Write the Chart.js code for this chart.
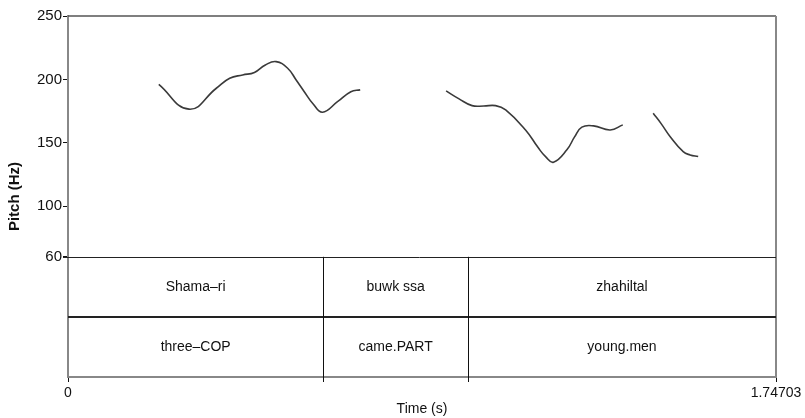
<!DOCTYPE html>
<html>
<head>
<meta charset="utf-8">
<script src="https://cdn.jsdelivr.net/npm/chart.js@4/dist/chart.umd.min.js"></script>
<style>
  html, body { margin: 0; padding: 0; background: #fff; }
  #wrap { width: 805px; height: 418px; }
</style>
</head>
<body>
<div id="wrap"><canvas id="c" width="805" height="418"></canvas></div>
<script>
// Pitch contour (time in s, F0 in Hz), one array per voiced stretch
const seg1Time = [0.224, 0.2985, 0.366, 0.399, 0.431, 0.460, 0.487, 0.5135, 0.542, 0.563, 0.583, 0.605, 0.628, 0.665, 0.698, 0.721];
const seg1Hz   = [196.1, 176.5, 193.0, 200.9, 203.5, 205.5, 211.4, 214.0, 208.8, 199.5, 190.3, 180.6, 174.1, 182.4, 190.3, 191.7];
const seg2Time = [0.933, 0.965, 0.997, 1.026, 1.055, 1.080, 1.129, 1.160, 1.179, 1.198, 1.231, 1.250, 1.268, 1.297, 1.338, 1.369];
const seg2Hz   = [190.9, 184.6, 179.3, 179.0, 179.3, 175.9, 160.1, 146.2, 138.8, 134.6, 144.4, 154.6, 162.3, 163.3, 160.1, 164.1];
const seg3Time = [1.444, 1.464, 1.486, 1.518, 1.535, 1.555];
const seg3Hz   = [173.3, 164.9, 154.8, 143.0, 140.4, 139.1];

// Axis ticks
const pitchTicks = [60, 100, 150, 200, 250];
const timeTicks = [0, 1.74703];

// Annotation tiers: interval boundaries (s) and labels
const tierBounds = [0, 0.630, 0.987, 1.74703];
const tierWords  = ['Shama\u2013ri', 'buwk ssa', 'zhahiltal'];
const tierGloss  = ['three\u2013COP', 'came.PART', 'young.men'];

const FONT = "'Liberation Sans', Arial, Helvetica, sans-serif";
const PITCH_MIN = 60;
const Y_MIN = -34.8;   // space under the pitch floor holds the two text tiers

function toPoints(ts, hs) { return ts.map((t, i) => ({ x: t, y: hs[i] })); }

const lineStyle = {
  borderColor: '#3a3a3a',
  borderWidth: 1.6,
  pointRadius: 0,
  fill: false,
  tension: 0.45
};

const tiersPlugin = {
  id: 'tiers',
  afterDraw(chart) {
    const { ctx, chartArea: a, scales: { x, y } } = chart;
    const top = y.getPixelForValue(PITCH_MIN);
    const bottom = a.bottom;
    const mid = (top + bottom) / 2;
    ctx.save();
    // frame top and right
    ctx.strokeStyle = '#555';
    ctx.lineWidth = 1.5;
    ctx.beginPath();
    ctx.moveTo(a.left, a.top);
    ctx.lineTo(a.right, a.top);
    ctx.stroke();
    ctx.strokeStyle = '#888';
    ctx.lineWidth = 2;
    ctx.beginPath();
    ctx.moveTo(a.right, a.top);
    ctx.lineTo(a.right, a.bottom);
    ctx.stroke();
    // pitch floor / first tier top
    ctx.strokeStyle = '#222';
    ctx.lineWidth = 1;
    ctx.beginPath();
    ctx.moveTo(a.left - 5, Math.round(top) + 0.5);
    ctx.lineTo(a.right, Math.round(top) + 0.5);
    ctx.stroke();
    // separator between tiers
    ctx.lineWidth = 2;
    ctx.beginPath();
    ctx.moveTo(a.left, Math.round(mid));
    ctx.lineTo(a.right, Math.round(mid));
    ctx.stroke();
    // interval boundaries
    ctx.lineWidth = 1;
    ctx.strokeStyle = '#111';
    for (let i = 1; i < tierBounds.length - 1; i++) {
      const px = Math.round(x.getPixelForValue(tierBounds[i])) + 0.5;
      ctx.beginPath();
      ctx.moveTo(px, top);
      ctx.lineTo(px, bottom + 5);
      ctx.stroke();
    }
    // labels
    ctx.fillStyle = '#111';
    ctx.font = '14px ' + FONT;
    ctx.textAlign = 'center';
    ctx.textBaseline = 'middle';
    for (let i = 0; i < tierWords.length; i++) {
      const cx = (x.getPixelForValue(tierBounds[i]) + x.getPixelForValue(tierBounds[i + 1])) / 2;
      ctx.fillText(tierWords[i], cx, (top + mid) / 2);
      ctx.fillText(tierGloss[i], cx, (mid + bottom) / 2);
    }
    ctx.restore();
  }
};

new Chart(document.getElementById('c'), {
  type: 'line',
  data: {
    datasets: [
      Object.assign({ data: toPoints(seg1Time, seg1Hz) }, lineStyle),
      Object.assign({ data: toPoints(seg2Time, seg2Hz) }, lineStyle),
      Object.assign({ data: toPoints(seg3Time, seg3Hz) }, lineStyle)
    ]
  },
  options: {
    responsive: false,
    animation: false,
    events: [],
    layout: { padding: { top: 16, right: 29, left: 0, bottom: 0 } },
    plugins: { legend: { display: false }, tooltip: { enabled: false } },
    scales: {
      x: {
        type: 'linear',
        min: 0,
        max: 1.74703,
        afterBuildTicks: s => { s.ticks = timeTicks.map(v => ({ value: v })); },
        afterFit: s => { s.height = 41; },
        ticks: {
          autoSkip: false,
          maxRotation: 0,
          padding: 3,
          color: '#111',
          font: { family: FONT, size: 14 },
          callback: v => String(v)
        },
        grid: { drawOnChartArea: false, tickLength: 5, color: '#111', tickWidth: 1 },
        border: { color: '#888', width: 2 },
        title: { display: true, text: 'Time (s)', color: '#111', font: { family: FONT, size: 14 }, padding: { top: 0, bottom: 0 } }
      },
      y: {
        type: 'linear',
        min: Y_MIN,
        max: 250,
        afterBuildTicks: s => { s.ticks = pitchTicks.map(v => ({ value: v })); },
        afterFit: s => { s.width = 68; },
        ticks: {
          autoSkip: false,
          padding: 1,
          color: '#111',
          font: { family: FONT, size: 15 },
          callback: v => String(v)
        },
        grid: { drawOnChartArea: false, tickLength: 5, color: '#111', tickWidth: 1 },
        border: { color: '#888', width: 2 },
        title: { display: true, text: 'Pitch (Hz)', color: '#111', font: { family: FONT, size: 15, weight: 'bold' }, padding: { top: 6, bottom: 0 } }
      }
    }
  },
  plugins: [tiersPlugin]
});
</script>
</body>
</html>
